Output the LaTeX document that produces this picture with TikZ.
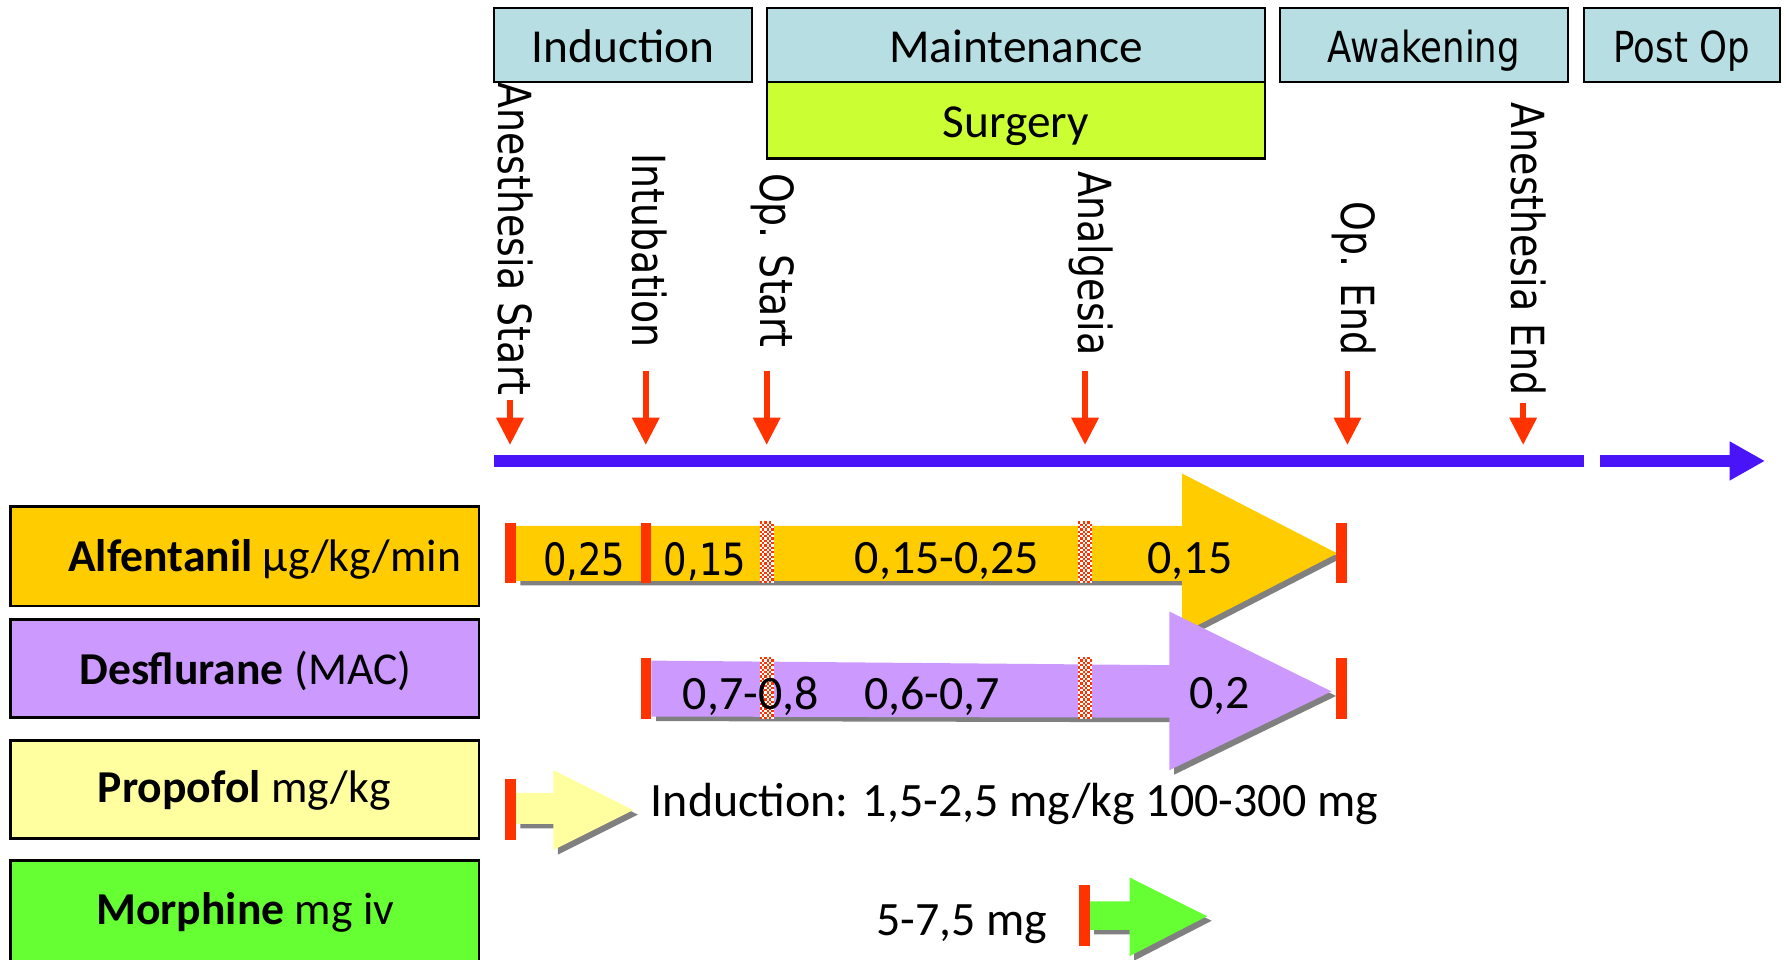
\documentclass[tikz,border=0pt]{standalone}
\usepackage{fontspec}
\setmainfont{Carlito}
\newfontfamily\verdfam[FakeStretch=0.83]{DejaVu Sans}
\usetikzlibrary{arrows.meta}
\definecolor{hdr}{RGB}{183,222,226}
\definecolor{surg}{RGB}{204,255,51}
\definecolor{alf}{RGB}{255,204,0}
\definecolor{des}{RGB}{204,153,255}
\definecolor{prop}{RGB}{255,255,160}
\definecolor{morph}{RGB}{102,255,51}
\definecolor{redmk}{RGB}{255,51,0}
\definecolor{tline}{RGB}{74,20,248}
\definecolor{shad}{RGB}{128,128,128}
\newcommand{\fhdr}{\fontsize{20.75}{24}\selectfont}
\newcommand{\fverd}{\verdfam\fontsize{18.75}{22}\selectfont}
\newcommand{\fvlab}{\verdfam\fontsize{20}{24}\selectfont}
\newcommand{\fdrug}{\fontsize{20}{24}\selectfont}
\newcommand{\fnum}{\fontsize{21}{24}\selectfont}
\newcommand{\fnumv}{\verdfam\fontsize{19.5}{22}\selectfont}
\newcommand{\chkbar}[2]{%
  \fill[white] (#1,#2) rectangle ++(12,54);
  \foreach \i in {0,...,5}{\foreach \j in {0,...,26}{%
    \pgfmathtruncatemacro{\chkpar}{mod(\i+\j,2)}%
    \ifnum\chkpar=0 \fill[redmk] ({#1+2*\i},{#2+2*\j}) rectangle ++(2,2);\fi}}}
\begin{document}
\begin{tikzpicture}[x=0.5pt,y=-0.5pt,
  phase/.style={draw=black, line width=1pt, fill=hdr, inner sep=0pt, minimum height=32.5pt, text height=15.5pt, text depth=0pt},
  drugbox/.style={draw=black, line width=1.1pt, inner sep=0pt, minimum width=205.5pt, minimum height=43pt},
  vlabel/.style={rotate=-90, anchor=east, inner sep=0pt, font=\fvlab},
  evarrow/.style={draw=redmk, line width=2.6pt, -{Triangle[length=12pt,width=11.5pt]}},
  tlline/.style={draw=tline, line width=5.5pt},
  numtxt/.style={inner sep=0pt, font=\fnum},
  numv/.style={inner sep=0pt, font=\fnumv},
  plaintxt/.style={inner sep=0pt, font=\fnum}
]
\useasboundingbox (0,0) rectangle (1568,841);
\fill[white] (0,0) rectangle (1568,841);

% phase header boxes
\node[phase, minimum width=113pt, font=\fhdr] (ind) at (546,39.5) {Induction};
\node[phase, minimum width=218.5pt, font=\fhdr] (maint) at (890.5,39.5) {Maintenance};
\node[phase, minimum width=218.5pt, minimum height=33.5pt, fill=surg, font=\fhdr, text height=15pt] (surg) at (890.5,105.5) {Surgery};
\node[phase, minimum width=126pt, font=\fverd] (awak) at (1248,39.5) {Awakening};
\node[phase, minimum width=86pt, font=\fverd] (post) at (1474,39.5) {Post Op};

% event labels
\node[vlabel] (las) at (452,347) {Anesthesia Start};
\node[vlabel] (lint) at (569,305) {Intubation};
\node[vlabel] (lops) at (677,305) {Op. Start};
\node[vlabel] (lana) at (956,312) {Analgesia};
\node[vlabel] (lope) at (1187,312) {Op. End};
\node[vlabel] (lae) at (1340,347) {Anesthesia End};

% timeline
\coordinate (tl0) at (433,404);
\coordinate (tl1) at (1388,404);
\coordinate (tl2) at (1402,404);
\coordinate (tl3) at (1547,404);
\draw[tlline] (tl0) -- (tl1);
\draw[tlline, -{Triangle[length=15.5pt,width=16pt]}] (tl2) -- (tl3);

% event arrows
\coordinate (eas0) at (447,351);  \coordinate (eas1) at (447,390);
\coordinate (eint0) at (566,325); \coordinate (eint1) at (566,390);
\coordinate (eops0) at (672,325); \coordinate (eops1) at (672,390);
\coordinate (eana0) at (951,325); \coordinate (eana1) at (951,390);
\coordinate (eope0) at (1181,325); \coordinate (eope1) at (1181,390);
\coordinate (eae0) at (1335,353); \coordinate (eae1) at (1335,390);
\draw[evarrow] (eas0) -- (eas1);
\draw[evarrow] (eint0) -- (eint1);
\draw[evarrow] (eops0) -- (eops1);
\draw[evarrow] (eana0) -- (eana1);
\draw[evarrow] (eope0) -- (eope1);
\draw[evarrow] (eae0) -- (eae1);

% drug boxes
\node[drugbox, fill=alf, minimum height=43.5pt] (alfbox) at (214.5,487.5) {};
\node[drugbox, fill=des] (desbox) at (214.5,586) {};
\node[drugbox, fill=prop] (propbox) at (214.5,692) {};
\node[drugbox, fill=morph, minimum height=45pt] (morbox) at (214.5,799) {};
\node[inner sep=0pt, font=\fdrug] (alftxt) at (232,490) {\textbf{Alfentanil} µg/kg/min};
\node[inner sep=0pt, font=\fdrug] (destxt) at (215,588) {\textbf{Desflurane} (MAC)};
\node[inner sep=0pt, font=\fdrug] (proptxt) at (214,693) {\textbf{Propofol} mg/kg};
\node[inner sep=0pt, font=\fdrug] (mortxt) at (215,800) {\textbf{Morphine} mg iv};

% Alfentanil arrow
\fill[shad, shift={(4,4)}] (452,461) -- (1036,461) -- (1036,415) -- (1172,485) -- (1036,555) -- (1036,509) -- (452,509) -- cycle;
\fill[alf] (452,461) -- (1036,461) -- (1036,415) -- (1172,485) -- (1036,555) -- (1036,509) -- (452,509) -- cycle;
\fill[redmk] (443,458) rectangle (452,511);
\fill[redmk] (562,458) rectangle (571,511);
\fill[redmk] (1171,458) rectangle (1181,511);
\chkbar{666}{457}
\chkbar{945}{457}
\node[numv] (a1) at (512,492) {0,25};
\node[numv] (a2) at (618,492) {0,15};
\node[numtxt] (a3) at (830,492) {0,15-0,25};
\node[numtxt] (a4) at (1043,492) {0,15};

% Desflurane arrow
\fill[shad, shift={(4,4)}] (571,579) -- (1025,583) -- (1025,536) -- (1167,606) -- (1025,675) -- (1025,629) -- (571,628) -- cycle;
\fill[des] (571,579) -- (1025,583) -- (1025,536) -- (1167,606) -- (1025,675) -- (1025,629) -- (571,628) -- cycle;
\fill[redmk] (562,577) rectangle (571,630);
\fill[redmk] (1171,577) rectangle (1181,630);
\chkbar{666}{576}
\chkbar{945}{576}
\node[numtxt] (d1) at (658,610) {0,7-0,8};
\node[numtxt] (d2) at (817,610) {0,6-0,7};
\node[numtxt] (d3) at (1069,610) {0,2};

% Propofol arrow
\fill[shad, shift={(4,4)}] (452,695) -- (485,695) -- (485,675) -- (555,710) -- (485,745) -- (485,722) -- (452,722) -- cycle;
\fill[prop] (452,695) -- (485,695) -- (485,675) -- (555,710) -- (485,745) -- (485,722) -- (452,722) -- cycle;
\fill[redmk] (443,683) rectangle (452,736);
\node[plaintxt, anchor=west] (ptxt) at (570,705) {Induction: 1,5-2,5 mg/kg 100-300 mg};

% Morphine arrow
\fill[shad, shift={(4,4)}] (955,790) -- (990,790) -- (990,769) -- (1058,803) -- (990,838) -- (990,815) -- (955,815) -- cycle;
\fill[morph] (955,790) -- (990,790) -- (990,769) -- (1058,803) -- (990,838) -- (990,815) -- (955,815) -- cycle;
\fill[redmk] (946,776) rectangle (955,829);
\node[plaintxt] (mtxt) at (843,810) {5-7,5 mg};
\end{tikzpicture}
\end{document}
